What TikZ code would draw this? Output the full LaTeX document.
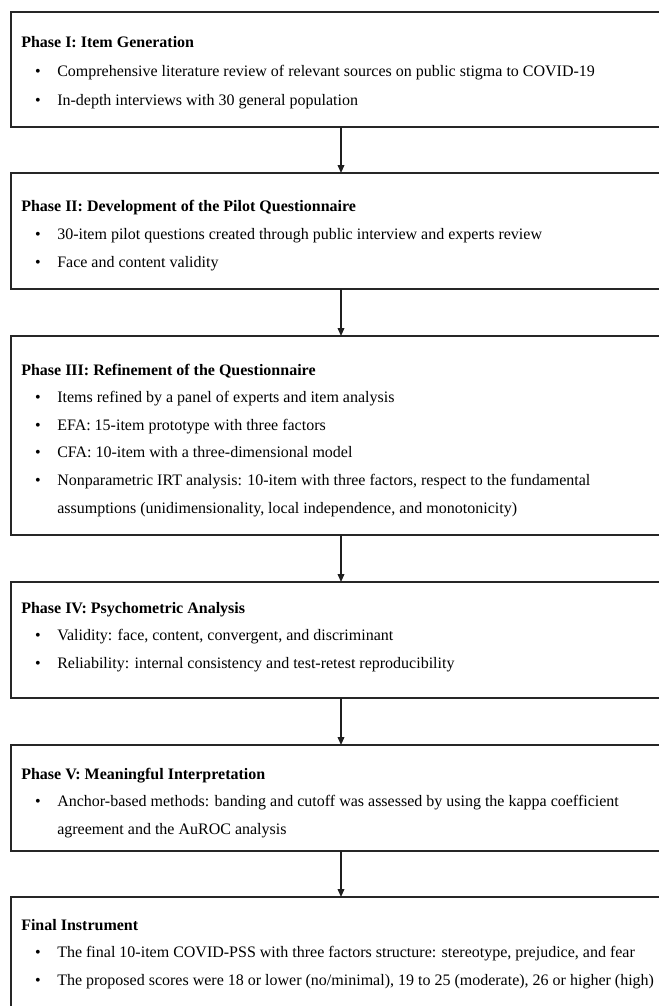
\documentclass[tikz,border=0pt]{standalone}
\usepackage{fontspec}
\setmainfont{Liberation Serif}
\usetikzlibrary{arrows.meta}
\tikzset{
  box/.style={draw=black!85, line width=1.1pt, inner sep=0pt, outer sep=0pt, anchor=north west, minimum width=495pt},
  head/.style={anchor=base west, inner sep=0pt, font=\fontsize{12pt}{14pt}\selectfont\bfseries},
  txt/.style={anchor=base west, inner sep=0pt, font=\fontsize{12pt}{14pt}\selectfont},
  bul/.style={anchor=base, inner sep=0pt, font=\fontsize{12pt}{14pt}\selectfont},
  arr/.style={draw=black!88, line width=1.1pt, -{Triangle[length=6pt,width=5pt]}}
}
\begin{document}
\begin{tikzpicture}[x=0.75pt,y=-0.75pt]
\clip (0,0) rectangle (659,1006);
% boxes
\node[box, minimum height=86.25pt] (b1) at (11,12) {};
\node[box, minimum height=87pt] (b2) at (11,173) {};
\node[box, minimum height=149.25pt] (b3) at (11,336) {};
\node[box, minimum height=87pt] (b4) at (11,582) {};
\node[box, minimum height=79.5pt] (b5) at (11,745) {};
\node[box, minimum height=105pt] (b6) at (11,897) {};
% arrows
\draw[arr] (b1.south) -- (b2.north);
\draw[arr] (b2.south) -- (b3.north);
\draw[arr] (b3.south) -- (b4.north);
\draw[arr] (b4.south) -- (b5.north);
\draw[arr] (b5.south) -- (b6.north);
% box 1
\node[head] (h1) at (21,48) {Phase I: Item Generation};
\node[bul] (p1a) at (38,77) {\textbullet};
\node[txt] (t1a) at (57,77) {Comprehensive literature review of relevant sources on public stigma to COVID-19};
\node[bul] (p1b) at (38,105.5) {\textbullet};
\node[txt] (t1b) at (57,105.5) {In-depth interviews with 30 general population};
% box 2
\node[head] (h2) at (21,211) {Phase II: Development of the Pilot Questionnaire};
\node[bul] (p2a) at (38,239) {\textbullet};
\node[txt] (t2a) at (57,239) {30-item pilot questions created through public interview and experts review};
\node[bul] (p2b) at (38,267) {\textbullet};
\node[txt] (t2b) at (57,267) {Face and content validity};
% box 3
\node[head] (h3) at (21,375) {Phase III: Refinement of the Questionnaire};
\node[bul] (p3a) at (38,402.6) {\textbullet};
\node[txt] (t3a) at (57,402.6) {Items refined by a panel of experts and item analysis};
\node[bul] (p3b) at (38,430.2) {\textbullet};
\node[txt] (t3b) at (57,430.2) {EFA: 15-item prototype with three factors};
\node[bul] (p3c) at (38,457.8) {\textbullet};
\node[txt] (t3c) at (57,457.8) {CFA: 10-item with a three-dimensional model};
\node[bul] (p3d) at (38,485.4) {\textbullet};
\node[txt] (t3d) at (57,485.4) {Nonparametric IRT analysis: 10-item with three factors, respect to the fundamental};
\node[txt] (t3e) at (57,513) {assumptions (unidimensionality, local independence, and monotonicity)};
% box 4
\node[head] (h4) at (21,613) {Phase IV: Psychometric Analysis};
\node[bul] (p4a) at (38,640.6) {\textbullet};
\node[txt] (t4a) at (57,640.6) {Validity: face, content, convergent, and discriminant};
\node[bul] (p4b) at (38,668.2) {\textbullet};
\node[txt] (t4b) at (57,668.2) {Reliability: internal consistency and test-retest reproducibility};
% box 5
\node[head] (h5) at (21,779) {Phase V: Meaningful Interpretation};
\node[bul] (p5a) at (38,806.6) {\textbullet};
\node[txt] (t5a) at (57,806.6) {Anchor-based methods: banding and cutoff was assessed by using the kappa coefficient};
\node[txt] (t5b) at (57,834.2) {agreement and the AuROC analysis};
% box 6
\node[head] (h6) at (21,930) {Final Instrument};
\node[bul] (p6a) at (38,957.6) {\textbullet};
\node[txt] (t6a) at (57,957.6) {The final 10-item COVID-PSS with three factors structure: stereotype, prejudice, and fear};
\node[bul] (p6b) at (38,985.2) {\textbullet};
\node[txt] (t6b) at (57,985.2) {The proposed scores were 18 or lower (no/minimal), 19 to 25 (moderate), 26 or higher (high)};
\end{tikzpicture}
\end{document}
